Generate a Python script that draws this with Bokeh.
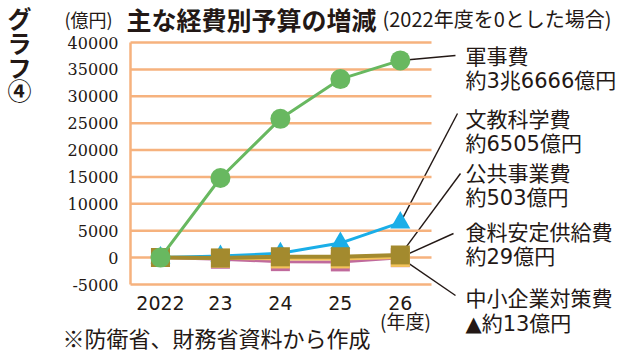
from bokeh.plotting import figure
from bokeh.models import FixedTicker, Label, Arrow, Range1d
from bokeh.embed import file_html
from bokeh.resources import INLINE

# ---- data ----
years = [2022, 2023, 2024, 2025, 2026]
year_labels = ["2022", "23", "24", "25", "26"]
y_ticks = [-5000, 0, 5000, 10000, 15000, 20000, 25000, 30000, 35000, 40000]
y_tick_labels = ["-5000", "0", "5000", "10000", "15000", "20000", "25000", "30000", "35000", "40000"]

defense = [0, 14800, 25800, 33200, 36666]        # 軍事費
education = [0, 300, 800, 2700, 6505]            # 文教科学費
public_works = [0, -50, 150, 150, 503]           # 公共事業費
food = [0, -100, -250, -250, 29]                 # 食料安定供給費
sme = [0, -300, -750, -800, -13]                 # 中小企業対策費

series_names = ["軍事費", "文教科学費", "公共事業費", "食料安定供給費", "中小企業対策費"]
value_labels = ["約3兆6666億円", "約6505億円", "約503億円", "約29億円", "▲約13億円"]

# ---- style ----
GRID = "#F6B27E"
C_GREEN = "#68B860"
C_BLUE = "#1AAEE8"
C_OLIVE = "#A38A2E"
C_YELLOW = "#F3C35A"
C_PINK = "#C06A9C"
JP = "Noto Sans CJK JP"
JP_DIGITS = "DejaVu Sans, Noto Sans CJK JP"
SERIF = "DejaVu Serif"
TXT = "#231815"

W, H = 630, 356
X0, X1 = 2021.5, 2026.52          # plotting area in data units
Y0, Y1 = -5000, 40000
FL, FR, FT, FB = 130, 431, 42, 284  # plotting area in pixels
SX = (FR - FL) / (X1 - X0)
SY = (FB - FT) / (Y1 - Y0)


def px_x(x):
    return X0 + (x - FL) / SX


def px_y(y):
    return Y1 - (y - FT) / SY


p = figure(width=W, height=H,
           x_range=Range1d(X0 - FL / SX, X0 + (W - FL) / SX),
           y_range=Range1d(Y0 - (H - FB) / SY, Y1 + FT / SY),
           output_backend="svg", toolbar_location=None,
           min_border_left=0, min_border_right=0, min_border_top=0, min_border_bottom=0)
p.outline_line_color = None
p.background_fill_color = "white"
p.border_fill_color = "white"
p.xgrid.visible = False
p.ygrid.visible = False

# horizontal grid lines limited to the plotting area
p.segment(x0=[X0] * len(y_ticks), x1=[X1] * len(y_ticks), y0=y_ticks, y1=y_ticks,
          line_color=GRID, line_width=2.5)

p.yaxis.fixed_location = X0
p.yaxis.bounds = (Y0, Y1)
p.yaxis.ticker = FixedTicker(ticks=y_ticks)
p.yaxis.major_label_overrides = {t: s for t, s in zip(y_ticks, y_tick_labels)}
p.yaxis.axis_line_color = GRID
p.yaxis.axis_line_width = 2.5
p.yaxis.major_tick_line_color = None
p.yaxis.minor_tick_line_color = None
p.yaxis.major_label_text_font = SERIF
p.yaxis.major_label_text_font_size = "16px"
p.yaxis.major_label_text_color = TXT
p.yaxis.major_label_standoff = 6

p.xaxis.fixed_location = Y0
p.xaxis.ticker = FixedTicker(ticks=years)
p.xaxis.major_label_overrides = {y: s for y, s in zip(years, year_labels)}
p.xaxis.axis_line_color = None
p.xaxis.major_tick_line_color = None
p.xaxis.minor_tick_line_color = None
p.xaxis.major_label_text_font = JP_DIGITS
p.xaxis.major_label_text_font_size = "19px"
p.xaxis.major_label_text_color = TXT
p.xaxis.major_label_standoff = 5

# leader lines (under the markers)
leader_ends = [(455, 55), (457, 113), (460, 173), (453, 233), (455, 295)]
last_vals = [defense[-1], education[-1], public_works[-1], food[-1], sme[-1]]
for (ex, ey), v in zip(leader_ends, last_vals):
    p.add_layout(Arrow(end=None, x_start=years[-1], y_start=v, x_end=px_x(ex), y_end=px_y(ey),
                       line_color=TXT, line_width=1.4, level="underlay"))

# series
p.line(years, sme, line_color=C_PINK, line_width=3)
p.scatter(years, sme, marker="square", size=19, fill_color=C_PINK, line_color=None)
p.line(years, food, line_color=C_YELLOW, line_width=3)
p.scatter(years, food, marker="square", size=19, fill_color=C_YELLOW, line_color=None)
p.line(years, education, line_color=C_BLUE, line_width=3)
p.scatter(years, education, marker="triangle", size=20, fill_color=C_BLUE, line_color=None)
p.line(years, public_works, line_color=C_OLIVE, line_width=4)
p.scatter(years, public_works, marker="square", size=19, fill_color=C_OLIVE, line_color=None)
p.line(years, defense, line_color=C_GREEN, line_width=3)
p.scatter(years, defense, marker="circle", size=20, fill_color=C_GREEN, line_color=None)


def add_text(text, x, y, size, align="left", weight="normal", font=JP):
    p.add_layout(Label(x=px_x(x), y=px_y(y), text=text, text_font=font,
                       text_font_size=size, text_font_style=weight, text_color=TXT,
                       text_align=align, text_baseline="middle"))


# right-hand labels
name_y = [54, 117, 171, 230, 296]
val_dy = [26, 26, 26, 26, 27]
for name, val, ny, dy in zip(series_names, value_labels, name_y, val_dy):
    add_text(name, 465, ny, "21px")
    add_text(val, 465, ny + dy, "21px", font=JP_DIGITS)

# titles
add_text("(億円)", 64, 18, "18px")
add_text("主な経費別予算の増減", 126, 18, "25px", weight="bold")
add_text("(2022年度を0とした場合)", 382, 18, "20px")
for ch, cy in zip(["グ", "ラ", "フ", "④"], [17, 42, 66, 89]):
    add_text(ch, 19, cy, "24px", align="center", weight="bold")

add_text("(年度)", 405, 320, "19px", align="center")
add_text("※防衛省、財務省資料から作成", 62, 336, "22px")

open("out.html", "w").write(file_html(p, INLINE))
